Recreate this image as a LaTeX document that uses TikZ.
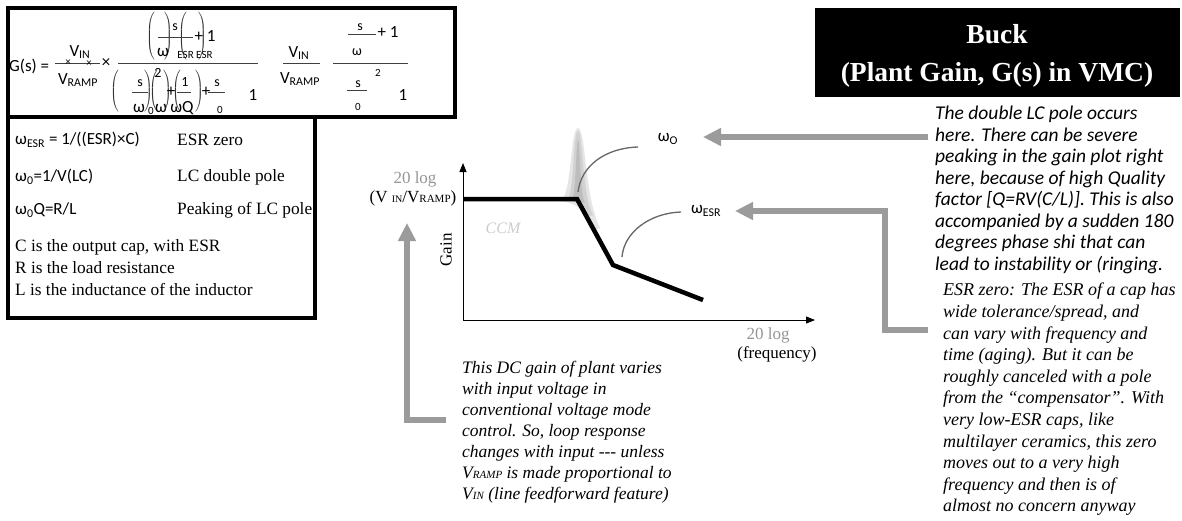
\documentclass[tikz,border=0pt]{standalone}
\usepackage{fontspec}
\setmainfont{Liberation Serif}
\newfontfamily\calib{Carlito}
\usetikzlibrary{arrows.meta}
\definecolor{arrgray}{RGB}{155,155,155}
\definecolor{txtgray}{RGB}{150,150,150}
\definecolor{ccmgray}{RGB}{205,205,205}
\newcommand{\fsz}[2]{\fontsize{#1}{#2}\selectfont}
\newcommand{\tallL}[1]{$\left(\vrule height #1 depth #1 width 0pt\right.$}
\newcommand{\tallR}[1]{$\left.\vrule height #1 depth #1 width 0pt\right)$}
\tikzset{
  frame/.style={draw=black, line width=4pt},
  fx/.style={inner sep=0pt, font=\calib\fsz{17}{19}},
  fsm/.style={inner sep=0pt, font=\calib\fsz{14}{16}},
  fsub/.style={inner sep=0pt, font=\calib\fsz{11}{12}},
  bigp/.style={inner sep=0pt, text=black!80},
  fbar/.style={draw=black!75, line width=0.9pt},
  deflab/.style={inner sep=0pt, anchor=west, font=\calib\fsz{17}{20}},
  defser/.style={inner sep=0pt, anchor=west, font=\fsz{17.3}{21}},
  note/.style={inner sep=0pt, anchor=north west, align=left, font=\fsz{17.5}{21}\itshape},
  notesans/.style={inner sep=0pt, anchor=north west, align=left, font=\calib\fsz{19.5}{21.5}\itshape},
  grayarrow/.style={draw=arrgray, line width=6pt, line join=miter, -{Triangle[length=18pt,width=17pt]}},
  axis/.style={draw=black, line width=0.9pt, -{Triangle[length=9pt,width=7pt]}},
  gainline/.style={draw=black, line width=4.5pt, line join=miter},
  pointer/.style={draw=black!60, line width=1.3pt},
  glabel/.style={inner sep=0pt, font=\fsz{17}{20}},
}
\begin{document}
\begin{tikzpicture}[x=1pt,y=-1pt]
\useasboundingbox (0,0) rectangle (1182,520);
\fill[white] (0,0) rectangle (1182,520);

% ---------- formula box ----------
\draw[frame] (8,8) rectangle (455,117);
\node[fx,anchor=west] (f1) at (9,66) {G(s) =};
\node[fx] (f2) at (80,52) {V\textsubscript{IN}};
\draw[fbar] (55,63) -- (100,63);
\node[fsub] (f3) at (68,63) {×};
\node[fsub] (f4) at (89,64) {×};
\node[fx] (f5) at (78,80) {V\textsubscript{RAMP}};
\node[fx] (f6) at (106,63) {×};
\draw[fbar] (118,63) -- (258,63);
% numerator
\node[bigp] (p1) at (151,37) {\tallL{23pt}};
\node[bigp] (p2) at (168,37) {\tallR{23pt}};
\node[bigp] (p3) at (183,37) {\tallL{23pt}};
\node[bigp] (p4) at (202,37) {\tallR{23pt}};
\node[fsm] (f7) at (175,27) {s};
\draw[fbar] (158,37) -- (193,37);
\node[fx] (f8) at (205,36) {+ 1};
\node[fx] (f9) at (163,52) {ω};
\node[fsub] (f10) at (195,55) {ESR ESR};
% denominator
\node[bigp] (p5) at (115,92) {\tallL{20pt}};
\node[fsm] (f11) at (140,83) {s};
\draw[fbar] (132,92) -- (148,92);
\node[fx] (f12) at (139,108) {ω};
\node[fsub] (f13) at (151,111) {0};
\node[bigp] (p6) at (148,92) {\tallR{20pt}};
\node[bigp] (p7) at (154,92) {\tallL{20pt}};
\node[fsm] (f14) at (158,73) {2};
\node[fx] (f15) at (161,108) {ω};
\node[bigp] (p8) at (167,92) {\tallR{20pt}};
\node[fx] (f16) at (171,92) {+};
\node[bigp] (p9) at (177,92) {\tallL{20pt}};
\node[fsm] (f17) at (185,82) {1};
\draw[fbar] (177,92) -- (191,92);
\node[fx] (f18) at (182,108) {ωQ};
\node[bigp] (p10) at (199,92) {\tallR{20pt}};
\node[fx] (f19) at (206,92) {+};
\node[fsm] (f20) at (217,83) {s};
\draw[fbar] (208,92) -- (225,92);
\node[fsub] (f21) at (220,110) {0};
\node[fx] (f22) at (253,95) {1};
% second part
\node[fx] (f23) at (299,53) {V\textsubscript{IN}};
\draw[fbar] (283,63) -- (320,63);
\node[fx] (f24) at (300,79) {V\textsubscript{RAMP}};
% third part
\node[fsm] (f25) at (360,27) {s};
\draw[fbar] (348,34) -- (376,34);
\node[fx] (f26) at (388,32) {+ 1};
\node[fsm] (f27) at (357,52) {ω};
\draw[fbar] (333,63) -- (408,63);
\node[fsub] (f28) at (378,73) {2};
\node[fsm] (f29) at (358,84) {s};
\draw[fbar] (347,90) -- (367,90);
\node[fx] (f30) at (403,95) {1};
\node[fsub] (f31) at (358,107) {0};

% ---------- definitions box ----------
\draw[frame] (8,117) rectangle (315,318);
\node[deflab] (d1) at (15,140) {ω\textsubscript{ESR} = 1/((ESR)×C)};
\node[deflab] (d2) at (15,177) {ω\textsubscript{0}=1/V(LC)};
\node[deflab] (d3) at (15,210) {ω\textsubscript{0}Q=R/L};
\node[defser] (d4) at (177,140) {ESR zero};
\node[defser] (d5) at (177,177) {LC double pole};
\node[defser] (d6) at (177,210) {Peaking of LC pole};
\node[defser] (d7) at (15,247) {C is the output cap, with ESR};
\node[defser] (d8) at (15,268) {R is the load resistance};
\node[defser] (d9) at (15,289) {L is the inductance of the inductor};

% ---------- title ----------
\fill[black] (815,8) rectangle (1180,97);
\node[align=center, text=white, inner sep=0pt, font=\bfseries\fsz{27.5}{38}] (title) at (997,56) {Buck\\(Plant Gain, G(s) in VMC)};

% ---------- graph ----------
\coordinate (O) at (463,320);
\coordinate (ytop) at (463,163);
\coordinate (xend) at (815,320);
\draw[axis] (O) -- (ytop);
\draw[axis] (O) -- (xend);
% resonant peak (blurred)
\fill[black!10] (560,201) .. controls (572,198) and (570,128) .. (578,128) .. controls (586,128) and (584,196) .. (600,228) -- (594,230) .. controls (588,215) and (580,205) .. (566,202) -- cycle;
\fill[black!18] (567,200) .. controls (574,197) and (573,131) .. (578,131) .. controls (583,131) and (582,196) .. (593,215) -- (589,216) .. controls (584,206) and (578,202) .. (570,201) -- cycle;
\fill[black!26] (572,199) .. controls (576,196) and (576,140) .. (578,140) .. controls (580,140) and (580,196) .. (585,203) -- cycle;
\coordinate (g0) at (463,199);
\coordinate (g1) at (577,199);
\coordinate (g2) at (613,265);
\coordinate (g3) at (703,300);
\draw[gainline] (g0) -- (g1) -- (g2) -- (g3);

\node[glabel, text=txtgray] (l1) at (415,179) {20 log};
\node[glabel] (l2) at (413,198) {(V {\fsz{10}{10}IN}/V{\fsz{11}{11}RAMP})};
\node[glabel, rotate=90] (gain) at (446,250) {Gain};
\node[glabel, text=ccmgray, font=\itshape\fsz{16}{18}] (ccm) at (503,228) {CCM};
\node[glabel, text=txtgray] (l3) at (768,335) {20 log};
\node[glabel] (l4) at (777,354) {(frequency)};

\node[inner sep=0pt, font=\calib\fsz{17}{20}] (w0) at (668,139) {ω\textsubscript{O}};
\node[inner sep=0pt, font=\calib\fsz{17}{20}] (wesr) at (706,211) {ω\textsubscript{ESR}};
\coordinate (c1s) at (578,192);
\coordinate (c1e) at (638,147);
\coordinate (c2s) at (622,257);
\coordinate (c2e) at (681,212);
\draw[pointer] (c1s) .. controls (581,166) and (605,148) .. (c1e);
\draw[pointer] (c2s) .. controls (624,232) and (650,213) .. (c2e);

% ---------- gray arrows ----------
\coordinate (a1s) at (928,137);
\coordinate (a1e) at (703,137);
\draw[grayarrow] (a1s) -- (a1e);
\coordinate (a2s) at (928,330);
\coordinate (a2c) at (885,330);
\coordinate (a2e) at (735,211);
\draw[grayarrow] (a2s) -- (a2c) |- (a2e);
\coordinate (a3s) at (446,420);
\coordinate (a3e) at (407,223);
\draw[grayarrow] (a3s) -| (a3e);

% ---------- notes ----------
\node[note] (n1) at (462,361) {This DC gain of plant varies\\
with input voltage in\\
conventional voltage mode\\
control. So, loop response\\
changes with input {-}{-}{-} unless\\
V{\fsz{11}{11}RAMP} is made proportional to\\
V{\fsz{11}{11}IN} (line feedforward feature)};

\node[notesans] (n2) at (935,106) {The double LC pole occurs\\
here. There can be severe\\
peaking in the gain plot right\\
here, because of high Quality\\
factor [Q=RV(C/L)]. This is also\\
accompanied by a sudden 180\\
degrees phase shi that can\\
lead to instability or (ringing.};

\node[note, font=\fsz{18}{21.6}\itshape] (n3) at (943,283) {ESR zero: The ESR of a cap has\\
wide tolerance/spread, and\\
can vary with frequency and\\
time (aging). But it can be\\
roughly canceled with a pole\\
from the ``compensator''. With\\
very low-ESR caps, like\\
multilayer ceramics, this zero\\
moves out to a very high\\
frequency and then is of\\
almost no concern anyway};
\end{tikzpicture}
\end{document}
